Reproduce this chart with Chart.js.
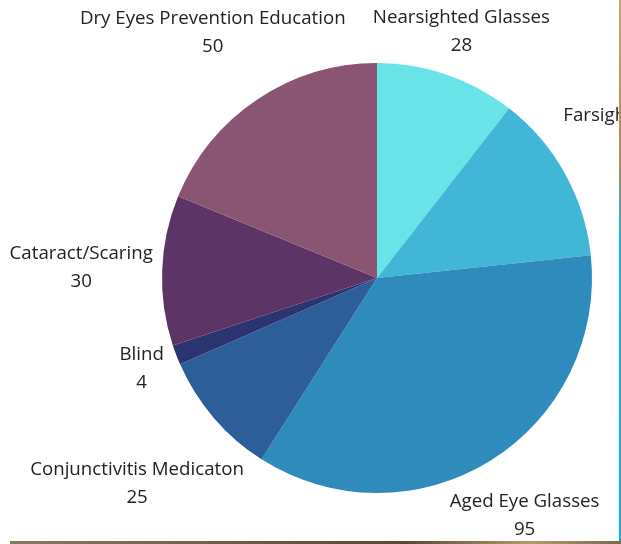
<!DOCTYPE html>
<html>
<head>
<meta charset="utf-8">
<script src="https://cdn.jsdelivr.net/npm/chart.js@4"></script>
<style>
  html, body { margin: 0; padding: 0; background: #fff; }
  #wrap { position: relative; width: 621px; height: 544px; overflow: hidden; }
  #box { position: absolute; left: 0; top: 0; width: 619px; height: 541px; }
  #edgeRight { position: absolute; left: 619px; top: 0; width: 2px; height: 541px;
    background: linear-gradient(#c9a56e 0%, #b08b5a 30%, #1ab0d8 45%, #16a9d4 100%); }
  #edgeBottom { position: absolute; left: 10px; top: 541px; width: 611px; height: 3px;
    background: linear-gradient(90deg, #8a7a62, #6b5a44 40%, #5a4a36 65%, #b89a6a 85%, #7a6a50); }
</style>
</head>
<body>
<div id="wrap">
  <div id="box"><canvas id="pieChart"></canvas></div>
  <div id="edgeRight"></div>
  <div id="edgeBottom"></div>
</div>
<script>
// Data
const categories = ["Nearsighted Glasses", "Farsighted Glasses", "Aged Eye Glasses", "Conjunctivitis Medicaton", "Blind", "Cataract/Scaring", "Dry Eyes Prevention Education"];
const values = [28, 34, 95, 25, 4, 30, 50];
const sliceColors = ["#68e4e8", "#42b6d6", "#2e8bbc", "#2e5e9a", "#2b3470", "#5c3566", "#8a5572"];

// how far each label sits from the pie centre
const labelDistance = [260, 306, 280, 316, 252, 296, 295];

const outsideLabels = {
  id: "outsideLabels",
  afterDraw(chart) {
    const ctx = chart.ctx;
    const arcs = chart.getDatasetMeta(0).data;
    ctx.save();
    ctx.font = "18.7px 'Open Sans'";
    ctx.fillStyle = "#222";
    ctx.textAlign = "center";
    ctx.textBaseline = "middle";
    arcs.forEach((arc, i) => {
      const mid = (arc.startAngle + arc.endAngle) / 2;
      const x = arc.x + Math.cos(mid) * labelDistance[i];
      const y = arc.y + Math.sin(mid) * labelDistance[i];
      ctx.fillText(categories[i], x, y - 14);
      ctx.fillText(values[i], x, y + 14);
    });
    ctx.restore();
  }
};

new Chart(document.getElementById("pieChart"), {
  type: "pie",
  data: {
    labels: categories,
    datasets: [{ data: values, backgroundColor: sliceColors, borderWidth: 0 }]
  },
  options: {
    responsive: true,
    maintainAspectRatio: false,
    animation: false,
    layout: { padding: { left: 162, right: 27, top: 63, bottom: 48 } },
    plugins: { legend: { display: false }, tooltip: { enabled: false } }
  },
  plugins: [outsideLabels]
});
</script>
</body>
</html>
